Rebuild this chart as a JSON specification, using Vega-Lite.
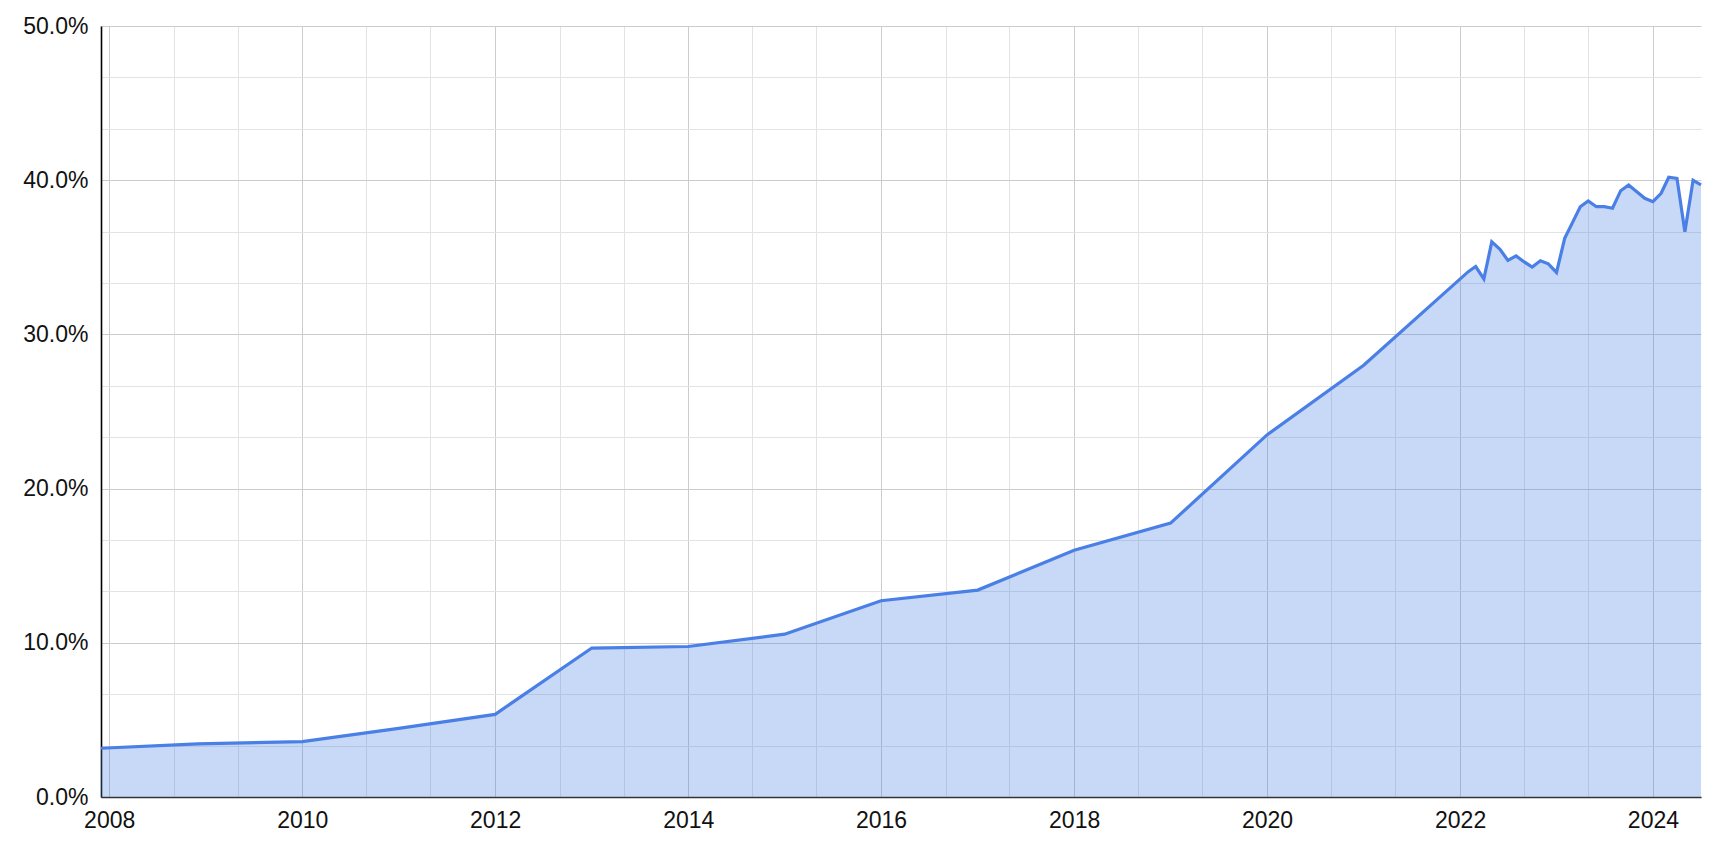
{
  "$schema": "https://vega.github.io/schema/vega-lite/v6.json",
  "width": 1600,
  "height": 771,
  "autosize": {"type": "none"},
  "padding": {"left": 101, "top": 26, "right": 27, "bottom": 69},
  "background": "white",
  "data": {
    "values": [
      {"date": "2007-12-01", "share": 0.0316},
      {"date": "2008-12-01", "share": 0.0345},
      {"date": "2010-01-01", "share": 0.0359},
      {"date": "2011-01-01", "share": 0.0445},
      {"date": "2012-01-01", "share": 0.0536},
      {"date": "2013-01-01", "share": 0.0966},
      {"date": "2014-01-01", "share": 0.0976},
      {"date": "2015-01-01", "share": 0.1056},
      {"date": "2016-01-01", "share": 0.1273},
      {"date": "2017-01-01", "share": 0.1342},
      {"date": "2018-01-01", "share": 0.1600},
      {"date": "2019-01-01", "share": 0.1776},
      {"date": "2020-01-01", "share": 0.2348},
      {"date": "2021-01-01", "share": 0.2800},
      {"date": "2022-02-01", "share": 0.3407},
      {"date": "2022-03-01", "share": 0.3440},
      {"date": "2022-04-01", "share": 0.3360},
      {"date": "2022-05-01", "share": 0.3600},
      {"date": "2022-06-01", "share": 0.3552},
      {"date": "2022-07-01", "share": 0.3480},
      {"date": "2022-08-01", "share": 0.3509},
      {"date": "2022-09-01", "share": 0.3470},
      {"date": "2022-10-01", "share": 0.3437},
      {"date": "2022-11-01", "share": 0.3477},
      {"date": "2022-12-01", "share": 0.3458},
      {"date": "2023-01-01", "share": 0.3402},
      {"date": "2023-02-01", "share": 0.3623},
      {"date": "2023-03-01", "share": 0.3720},
      {"date": "2023-04-01", "share": 0.3828},
      {"date": "2023-05-01", "share": 0.3865},
      {"date": "2023-06-01", "share": 0.3828},
      {"date": "2023-07-01", "share": 0.3828},
      {"date": "2023-08-01", "share": 0.3818},
      {"date": "2023-09-01", "share": 0.3932},
      {"date": "2023-10-01", "share": 0.3969},
      {"date": "2023-11-01", "share": 0.3925},
      {"date": "2023-12-01", "share": 0.3883},
      {"date": "2024-01-01", "share": 0.3861},
      {"date": "2024-02-01", "share": 0.3915},
      {"date": "2024-03-01", "share": 0.4019},
      {"date": "2024-04-01", "share": 0.4012},
      {"date": "2024-05-01", "share": 0.3666},
      {"date": "2024-06-01", "share": 0.3999},
      {"date": "2024-07-01", "share": 0.3969}
    ]
  },
  "encoding": {
    "x": {
      "field": "date",
      "type": "temporal",
      "title": null,
      "scale": {
        "type": "utc",
        "domain": [
          {"year": 2007, "month": 12, "date": 1, "utc": true},
          {"year": 2024, "month": 7, "date": 1, "utc": true}
        ]
      },
      "axis": {
        "values": [
          {"year": 2008, "month": 1, "date": 1, "utc": true},
          {"year": 2008, "month": 9, "date": 1, "utc": true},
          {"year": 2009, "month": 5, "date": 1, "utc": true},
          {"year": 2010, "month": 1, "date": 1, "utc": true},
          {"year": 2010, "month": 9, "date": 1, "utc": true},
          {"year": 2011, "month": 5, "date": 1, "utc": true},
          {"year": 2012, "month": 1, "date": 1, "utc": true},
          {"year": 2012, "month": 9, "date": 1, "utc": true},
          {"year": 2013, "month": 5, "date": 1, "utc": true},
          {"year": 2014, "month": 1, "date": 1, "utc": true},
          {"year": 2014, "month": 9, "date": 1, "utc": true},
          {"year": 2015, "month": 5, "date": 1, "utc": true},
          {"year": 2016, "month": 1, "date": 1, "utc": true},
          {"year": 2016, "month": 9, "date": 1, "utc": true},
          {"year": 2017, "month": 5, "date": 1, "utc": true},
          {"year": 2018, "month": 1, "date": 1, "utc": true},
          {"year": 2018, "month": 9, "date": 1, "utc": true},
          {"year": 2019, "month": 5, "date": 1, "utc": true},
          {"year": 2020, "month": 1, "date": 1, "utc": true},
          {"year": 2020, "month": 9, "date": 1, "utc": true},
          {"year": 2021, "month": 5, "date": 1, "utc": true},
          {"year": 2022, "month": 1, "date": 1, "utc": true},
          {"year": 2022, "month": 9, "date": 1, "utc": true},
          {"year": 2023, "month": 5, "date": 1, "utc": true},
          {"year": 2024, "month": 1, "date": 1, "utc": true}
        ],
        "labelExpr": "utcmonth(datum.value) === 0 ? utcFormat(datum.value, '%Y') : ''",
        "gridColor": {
          "condition": {"test": "utcmonth(datum.value) === 0", "value": "#cccccc"},
          "value": "#e3e3e3"
        },
        "labelPadding": 12,
        "labelFlush": false,
        "labelOverlap": false,
        "domainColor": "#333333",
        "domainWidth": 1.3
      }
    },
    "y": {
      "field": "share",
      "type": "quantitative",
      "title": null,
      "scale": {"domain": [0, 0.5], "nice": false, "zero": true},
      "axis": {
        "values": [0, 0.033333, 0.066667, 0.1, 0.133333, 0.166667, 0.2, 0.233333, 0.266667, 0.3, 0.333333, 0.366667, 0.4, 0.433333, 0.466667, 0.5],
        "labelExpr": "abs(datum.value * 10 - round(datum.value * 10)) < 0.001 ? format(datum.value, '.1%') : ''",
        "gridColor": {
          "condition": {"test": "abs(datum.value * 10 - round(datum.value * 10)) < 0.001", "value": "#cccccc"},
          "value": "#e3e3e3"
        },
        "labelPadding": 13,
        "labelOverlap": false,
        "labelFlush": false,
        "domainColor": "#000000",
        "domainWidth": 1.6
      }
    }
  },
  "layer": [
    {"mark": {"type": "area", "color": "#4a7fe6", "fillOpacity": 0.3, "opacity": 1}},
    {"mark": {"type": "line", "color": "#4a7fe6", "strokeWidth": 3.2, "strokeJoin": "miter"}}
  ],
  "config": {
    "view": {"stroke": null},
    "axis": {
      "ticks": false,
      "grid": true,
      "gridWidth": 1,
      "labelFont": "Liberation Sans",
      "labelFontSize": 23,
      "labelColor": "#111111"
    }
  }
}
